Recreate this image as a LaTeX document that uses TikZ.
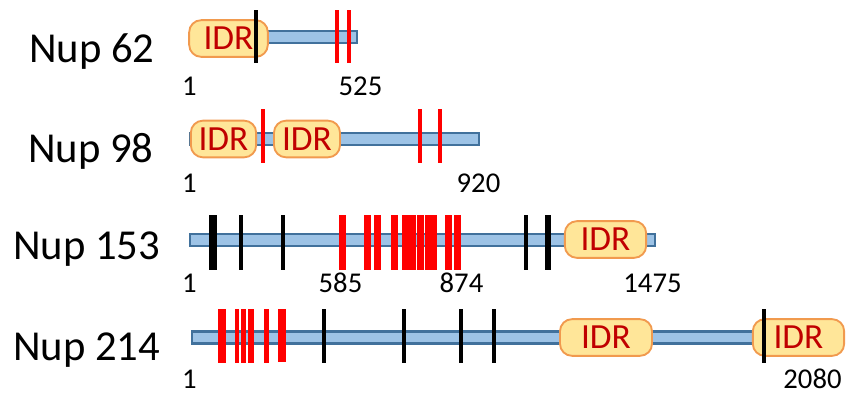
\documentclass[tikz,border=0pt]{standalone}
\usepackage{fontspec}
\setmainfont{Carlito}
\usepackage{xcolor}
\definecolor{barfill}{HTML}{9DC3E6}
\definecolor{barline}{HTML}{41719C}
\definecolor{idrfill}{HTML}{FFE699}
\definecolor{idrline}{HTML}{F19A4E}
\definecolor{idrtext}{HTML}{C00000}
\usetikzlibrary{calc}

\begin{document}
\begin{tikzpicture}[x=0.75pt,y=-0.75pt,
  bar/.style={draw=barline,fill=barfill,line width=2.1pt},
  idr/.style={draw=idrline,fill=idrfill,line width=1.4pt,rounded corners=9pt,
    text=idrtext,font=\fontsize{26.5}{30}\selectfont,inner sep=0pt,minimum height=27.5pt},
  redmk/.style={red,line width=3.7pt},
  blackmk/.style={black,line width=3.4pt},
  nuplbl/.style={font=\fontsize{32}{36}\selectfont,anchor=base west,inner sep=0pt},
  num/.style={font=\fontsize{21.5}{24}\selectfont,anchor=base,inner sep=0pt}]
\useasboundingbox (0,0) rectangle (850,394);

% Nup 62
\node[nuplbl] (n62) at (29,62) {Nup 62};
\draw[bar] (190,31) rectangle (357,43);
\node[idr,minimum width=59pt] (idr62) at (228.5,38.5) {IDR};
\draw[blackmk] (256,10)--(256,63);
\draw[redmk] (337,10)--(337,63);
\draw[redmk] (349,10)--(349,63);
\node[num] (s62) at (189.5,95) {1};
\node[num] (e62) at (360.5,95) {525};

% Nup 98
\node[nuplbl] (n98) at (28,162) {Nup 98};
\draw[bar] (190,133) rectangle (479,145);
\node[idr,minimum width=49pt] (idr98a) at (223.5,139) {IDR};
\node[idr,minimum width=49.5pt] (idr98b) at (307,139) {IDR};
\draw[redmk] (263,109)--(263,163);
\draw[redmk] (420,109)--(420,163);
\draw[redmk] (440,109)--(440,163);
\node[num] (s98) at (189.5,192) {1};
\node[num] (e98) at (478.5,192) {920};

% Nup 153
\node[nuplbl] (n153) at (13,259) {Nup 153};
\draw[bar] (190,234) rectangle (655,246);
\node[idr,minimum width=61pt] (idr153) at (605.5,239.5) {IDR};
\draw[blackmk,line width=5.4pt] (213,215)--(213,270);
\draw[blackmk] (241,215)--(241,270);
\draw[blackmk] (283,215)--(283,270);
\draw[redmk,line width=5.2pt] (342.5,215)--(342.5,270);
\draw[redmk,line width=5.2pt] (367.7,215)--(367.7,270);
\draw[redmk,line width=5.2pt] (377.3,215)--(377.3,270);
\draw[redmk,line width=5.2pt] (394.8,215)--(394.8,270);
\draw[redmk,line width=5.2pt] (405.5,215)--(405.5,270);
\draw[redmk,line width=5.2pt] (412.5,215)--(412.5,270);
\draw[redmk,line width=5.2pt] (420.5,215)--(420.5,270);
\draw[redmk,line width=5.2pt] (428,215)--(428,270);
\draw[redmk,line width=5.2pt] (434,215)--(434,270);
\draw[redmk,line width=5.2pt] (448.2,215)--(448.2,270);
\draw[redmk,line width=5.2pt] (457.8,215)--(457.8,270);
\draw[blackmk] (526,215)--(526,270);
\draw[blackmk,line width=4.2pt] (548,215)--(548,270);
\node[num] (s153) at (189.5,292) {1};
\node[num] (m153) at (340.5,292) {585};
\node[num] (f153) at (461.5,292) {874};
\node[num] (e153) at (652.5,292) {1475};

% Nup 214
\node[nuplbl] (n214) at (13,360) {Nup 214};
\draw[bar] (192,331.5) rectangle (840,343.5);
\node[idr,minimum width=69pt] (idr214a) at (606,337.5) {IDR};
\node[idr,minimum width=68.5pt] (idr214b) at (798.5,337.5) {IDR};
\draw[redmk,line width=6pt] (222,309)--(222,363);
\draw[redmk] (237,309)--(237,363);
\draw[redmk] (243.5,309)--(243.5,363);
\draw[redmk,line width=4.5pt] (251,309)--(251,363);
\draw[redmk] (266.5,309)--(266.5,363);
\draw[redmk,line width=6pt] (281.5,309)--(281.5,362);
\draw[blackmk] (324,309)--(324,363);
\draw[blackmk] (404,309)--(404,363);
\draw[blackmk] (461,309)--(461,363);
\draw[blackmk] (494,309)--(494,363);
\draw[blackmk] (764,309)--(764,363);
\node[num] (s214) at (189.5,388) {1};
\node[num] (e214) at (812.5,388) {2080};
\end{tikzpicture}
\end{document}
